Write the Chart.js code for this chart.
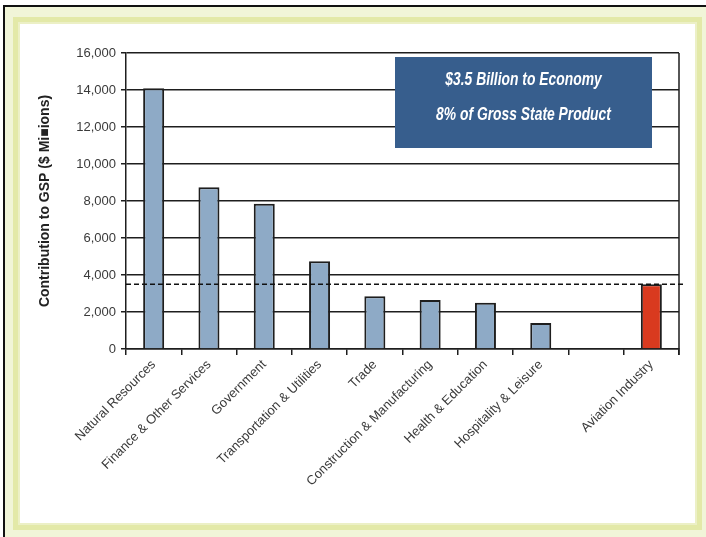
<!DOCTYPE html>
<html>
<head>
<meta charset="utf-8">
<script src="https://cdn.jsdelivr.net/npm/chart.js@4.4.1/dist/chart.umd.min.js"></script>
<style>
  html, body { margin: 0; padding: 0; background: #fff; width: 706px; height: 537px; overflow: hidden; }
  #outer { position: absolute; left: 3px; top: 5px; width: 701px; height: 530px;
           border-left: 2px solid #111; border-top: 2px solid #111; background: #f1f5d8; }
  #band { position: absolute; left: 13px; top: 17px; width: 689px; height: 513px; background: #e3e9a8; }
  #white { position: absolute; left: 20px; top: 24px; width: 675px; height: 499px; background: #fff;
           box-shadow: 0 0 0 2px #ecf0c6; }
  #c { position: absolute; left: 20px; top: 24px; }
</style>
</head>
<body>
<div id="outer"></div>
<div id="band"></div>
<div id="white"></div>
<canvas id="c" width="675" height="499"></canvas>
<script>
// industry categories and contribution to GSP ($ millions)
const categories = ['Natural Resources', 'Finance & Other Services', 'Government',
    'Transportation & Utilities', 'Trade', 'Construction & Manufacturing',
    'Health & Education', 'Hospitality & Leisure', '', 'Aviation Industry'];
const contribution = [14100, 8750, 7850, 4750, 2850, 2650, 2500, 1400, null, 3500];
const highlighted = 'Aviation Industry';
const aviationLine = 3500;
const yTicks = [0, 2000, 4000, 6000, 8000, 10000, 12000, 14000, 16000];
const boxLines = ['$3.5 Billion to Economy', '8% of Gross State Product'];

const ink = '#1e1e1e';

const extras = {
    id: 'extras',
    beforeDatasetsDraw(chart) {
        const { ctx, chartArea } = chart;
        ctx.save();
        ctx.strokeStyle = ink;
        ctx.lineWidth = 1.5;
        ctx.beginPath();
        ctx.moveTo(chartArea.right, chartArea.top);
        ctx.lineTo(chartArea.right, chartArea.bottom + 6);
        ctx.stroke();
        ctx.restore();
    },
    afterDatasetsDraw(chart) {
        const { ctx, chartArea, scales } = chart;
        const y = scales.y.getPixelForValue(aviationLine);
        ctx.save();
        ctx.strokeStyle = '#111';
        ctx.lineWidth = 1.5;
        ctx.setLineDash([5, 3]);
        ctx.beginPath();
        ctx.moveTo(chartArea.left, y);
        ctx.lineTo(chartArea.right + 6, y);
        ctx.stroke();
        ctx.restore();

        // callout box
        const bx = chartArea.left + 269, by = chartArea.top + 4, bw = 257, bh = 91;
        ctx.save();
        ctx.fillStyle = '#375e8d';
        ctx.fillRect(bx, by, bw, bh);
        ctx.fillStyle = '#fff';
        ctx.font = 'italic bold 18px "Liberation Sans", Arial, sans-serif';
        ctx.textAlign = 'center';
        ctx.textBaseline = 'middle';
        // condensed look, like the original Calibri text
        ctx.translate(bx + bw / 2, by);
        ctx.scale(0.77, 1);
        ctx.fillText(boxLines[0], 0, 23);
        ctx.fillText(boxLines[1], 0, 58);
        ctx.restore();
    }
};

new Chart(document.getElementById('c'), {
    type: 'bar',
    data: {
        labels: categories,
        datasets: [{
            data: contribution,
            backgroundColor: c => categories[c.dataIndex] === highlighted ? '#d93a1f' : '#8eaac6',
            borderColor: ink,
            borderWidth: 2,
            barPercentage: 0.38,
            categoryPercentage: 1
        }]
    },
    options: {
        responsive: false,
        animation: false,
        layout: { padding: { top: 29, right: 16, left: 0, bottom: 0 } },
        plugins: { legend: { display: false }, tooltip: { enabled: false } },
        scales: {
            x: {
                grid: { display: true, drawOnChartArea: false, drawTicks: true, tickLength: 6, color: ink, lineWidth: 1.5 },
                border: { display: true, color: ink, width: 1.5 },
                ticks: {
                    maxRotation: 45, minRotation: 45, autoSkip: false, padding: 2,
                    color: '#3a3a3a',
                    font: { family: '"Liberation Sans", Arial, sans-serif', size: 13 }
                },
                afterFit: s => { s.height = 174; }
            },
            y: {
                min: 0,
                max: 16000,
                afterBuildTicks: s => { s.ticks = yTicks.map(v => ({ value: v })); },
                grid: { color: ink, lineWidth: 1.5, tickLength: 5 },
                border: { display: true, color: ink, width: 1.5 },
                ticks: {
                    padding: 5,
                    color: '#3a3a3a',
                    font: { family: '"Liberation Sans", Arial, sans-serif', size: 13 },
                    callback: v => v.toLocaleString('en-US')
                },
                title: {
                    display: true,
                    text: 'Contribution to GSP ($ Mi\u25A0ions)',
                    color: '#222',
                    padding: { top: 17, bottom: 0 },
                    font: { family: '"Liberation Sans", Arial, sans-serif', size: 14, weight: 'bold' }
                },
                afterFit: s => { s.width = 106; }
            }
        }
    },
    plugins: [extras]
});
</script>
</body>
</html>
